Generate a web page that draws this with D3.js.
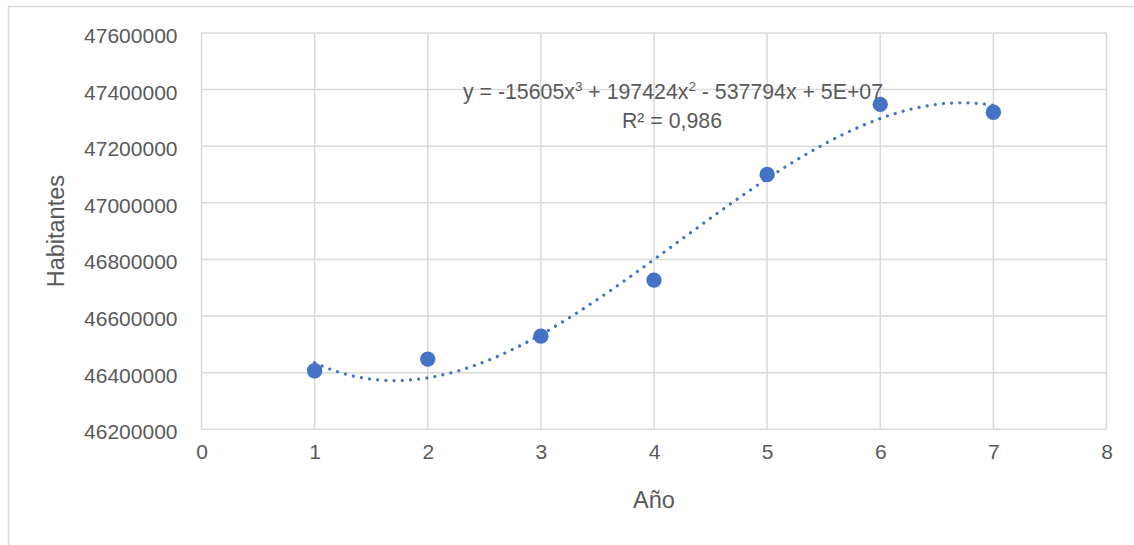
<!DOCTYPE html>
<html><head><meta charset="utf-8">
<script src="https://cdn.jsdelivr.net/npm/d3@7"></script>
<style>body{margin:0;background:#fff;}svg{display:block;}text{font-family:"Liberation Sans",Arial,sans-serif;fill:#595959;}</style>
</head><body><svg id="c" width="1134" height="545"></svg>
<script>
const years = [1, 2, 3, 4, 5, 6, 7];
const habitantes = [46407000, 46448000, 46529000, 46727000, 47100000, 47348000, 47320000];
const xTicks = [0, 1, 2, 3, 4, 5, 6, 7, 8];
const yTicks = [46200000, 46400000, 46600000, 46800000, 47000000, 47200000, 47400000, 47600000];
const eqText = ["y = -15605x", "3", " + 197424x", "2", " - 537794x + 5E+07"];
const r2Text = "R² = 0,986";

const svg = d3.select("#c");
svg.append("rect").attr("x", 8.5).attr("y", 6.5).attr("width", 1140).attr("height", 560)
  .attr("fill", "none").attr("stroke", "#d9d9d9").attr("stroke-width", 1.5);

const m = {l: 201.5, r: 1106.5, t: 33, b: 429.3};
const x = d3.scaleLinear().domain([0, 8]).range([m.l, m.r]);
const y = d3.scaleLinear().domain([46200000, 47600000]).range([m.b, m.t]);

const grid = svg.append("g");
grid.selectAll(".v").data(xTicks).join("line")
  .attr("x1", d => x(d)).attr("x2", d => x(d)).attr("y1", m.t).attr("y2", m.b)
  .attr("stroke", "#d9d9d9").attr("stroke-width", 1.5);
grid.selectAll(".h").data(yTicks).join("line")
  .attr("x1", m.l).attr("x2", m.r).attr("y1", d => y(d)).attr("y2", d => y(d))
  .attr("stroke", "#d9d9d9").attr("stroke-width", 1.5);

const yAxis = d3.axisLeft(y).tickValues(yTicks).tickSize(0).tickPadding(24).tickFormat(d3.format("d"));
const gy = svg.append("g").attr("transform", `translate(${m.l},0)`).call(yAxis);
gy.select(".domain").remove();
gy.selectAll("text").attr("font-size", 21).attr("fill", "#595959").attr("dy", "0.45em").style("font-family", "'Liberation Sans',Arial,sans-serif");

const xAxis = d3.axisBottom(x).tickValues(xTicks).tickSize(0).tickPadding(15).tickFormat(d3.format("d"));
const gx = svg.append("g").attr("transform", `translate(0,${m.b})`).call(xAxis);
gx.select(".domain").remove();
gx.selectAll("text").attr("font-size", 21).attr("fill", "#595959").style("font-family", "'Liberation Sans',Arial,sans-serif");

svg.append("text").attr("transform", `translate(64,${(m.t + m.b) / 2}) rotate(-90)`)
  .attr("text-anchor", "middle").attr("font-size", 23.5).text("Habitantes");
svg.append("text").attr("x", (m.l + m.r) / 2).attr("y", 508)
  .attr("text-anchor", "middle").attr("font-size", 23.5).text("Año");

// cubic least-squares trendline fitted to the data
function polyfit(xs, ys, deg) {
  const n = deg + 1, xm = d3.mean(xs);
  const A = Array.from({length: n}, () => new Array(n + 1).fill(0));
  xs.forEach((xv, i) => {
    const t = xv - xm;
    for (let r = 0; r < n; r++) {
      for (let c = 0; c < n; c++) A[r][c] += Math.pow(t, r + c);
      A[r][n] += Math.pow(t, r) * (ys[i] - 47000000);
    }
  });
  for (let i = 0; i < n; i++) {
    let p = i; for (let k = i + 1; k < n; k++) if (Math.abs(A[k][i]) > Math.abs(A[p][i])) p = k;
    [A[i], A[p]] = [A[p], A[i]];
    for (let k = 0; k < n; k++) if (k !== i) {
      const f = A[k][i] / A[i][i];
      for (let c = i; c <= n; c++) A[k][c] -= f * A[i][c];
    }
  }
  const co = A.map((row, i) => row[n] / row[i]);
  return xv => 47000000 + co.reduce((s, c, k) => s + c * Math.pow(xv - xm, k), 0);
}
const fit = polyfit(years, habitantes, 3);
const curveX = d3.range(years[0], years[years.length - 1] + 0.0001, 0.02);
const line = d3.line().x(d => x(d)).y(d => y(fit(d)));
svg.append("path").datum(curveX).attr("d", line).attr("fill", "none")
  .attr("stroke", "#4472c4").attr("stroke-width", 3.2).attr("stroke-linecap", "round")
  .attr("stroke-dasharray", "0.01 8.2");

svg.append("g").selectAll("circle").data(years).join("circle")
  .attr("cx", d => x(d)).attr("cy", (d, i) => y(habitantes[i])).attr("r", 7.7)
  .attr("fill", "#4472c4");

const eq = svg.append("text").attr("x", 463).attr("y", 99).attr("font-size", 21.3);
eqText.forEach((s, i) => {
  const ts = eq.append("tspan").text(s);
  if (i % 2 === 1) ts.attr("font-size", 13.5).attr("dy", -8);
  else if (i > 0) ts.attr("dy", 8);
});
svg.append("text").attr("x", 672).attr("y", 128).attr("text-anchor", "middle").attr("font-size", 21.3).text(r2Text);
</script></body></html>
